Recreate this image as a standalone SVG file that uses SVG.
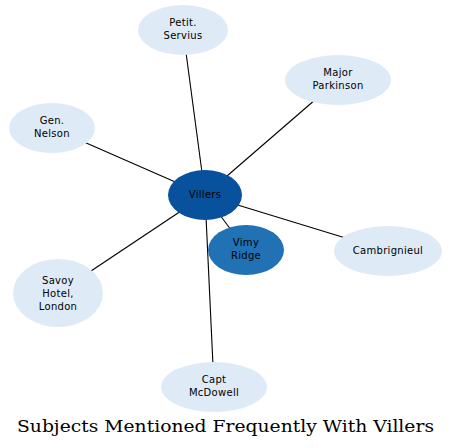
<svg xmlns="http://www.w3.org/2000/svg" width="452" height="448" viewBox="0 0 452 448">
<style>
.n{fill:#deebf7;stroke:none}
.t{font-family:"DejaVu Sans",sans-serif;font-size:10px;letter-spacing:0.3px;fill:#000;text-anchor:middle}
.e line{stroke:#000;stroke-width:1.1}
.title{font-family:"DejaVu Serif",serif;font-size:17.5px;text-anchor:middle;fill:#000}
</style>
<rect width="452" height="448" fill="#fff"/>
<g class="e" id="edges">
<line x1="205" y1="195" x2="183" y2="30"/>
<line x1="205" y1="195" x2="338" y2="80"/>
<line x1="205" y1="195" x2="52" y2="128"/>
<line x1="205" y1="195" x2="388" y2="251"/>
<line x1="205" y1="195" x2="58" y2="293"/>
<line x1="205" y1="195" x2="214" y2="387"/>
<line x1="205" y1="195" x2="246" y2="250"/>
</g>
<g id="petit"><ellipse class="n" cx="183" cy="30" rx="45" ry="25"/><text class="t" x="183" y="26">Petit.</text><text class="t" x="183" y="39">Servius</text></g>
<g id="major"><ellipse class="n" cx="338" cy="80" rx="53" ry="25"/><text class="t" x="338" y="76">Major</text><text class="t" x="338" y="89">Parkinson</text></g>
<g id="gen"><ellipse class="n" cx="52" cy="128" rx="43" ry="25"/><text class="t" x="52" y="124">Gen.</text><text class="t" x="52" y="137">Nelson</text></g>
<g id="camb"><ellipse class="n" cx="388" cy="251" rx="54" ry="25"/><text class="t" x="388" y="254">Cambrignieul</text></g>
<g id="savoy"><ellipse class="n" cx="58" cy="293" rx="45" ry="34"/><text class="t" x="58" y="284">Savoy</text><text class="t" x="58" y="297">Hotel,</text><text class="t" x="58" y="310">London</text></g>
<g id="capt"><ellipse class="n" cx="214" cy="387" rx="53" ry="25"/><text class="t" x="214" y="383">Capt</text><text class="t" x="214" y="396">McDowell</text></g>
<g id="villers"><ellipse cx="205" cy="195" rx="37" ry="25" fill="#08519c"/><text class="t" x="205" y="198">Villers</text></g>
<g id="vimy"><ellipse cx="246" cy="250" rx="38" ry="25" fill="#2171b5"/><text class="t" x="246" y="246">Vimy</text><text class="t" x="246" y="259">Ridge</text></g>
<text class="title" x="225.5" y="432" textLength="417" lengthAdjust="spacingAndGlyphs">Subjects Mentioned Frequently With Villers</text>
</svg>
